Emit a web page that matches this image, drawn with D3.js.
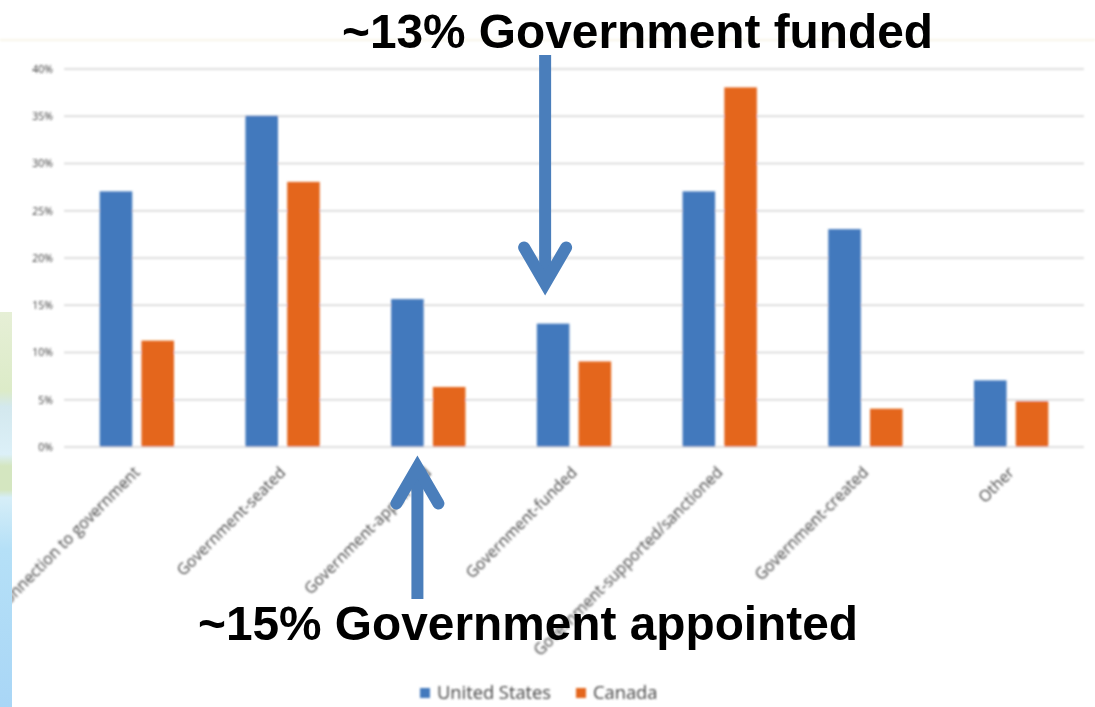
<!DOCTYPE html>
<html><head><meta charset="utf-8">
<script src="https://cdn.jsdelivr.net/npm/d3@7"></script>
<style>html,body{margin:0;padding:0;background:#fff;overflow:hidden}svg{display:block}</style>
</head><body><svg id="c" width="1095" height="707"></svg>
<script>
const categories = ["No connection to government","Government-seated","Government-appointed","Government-funded","Government-supported/sanctioned","Government-created","Other"];
const seriesNames = ["United States","Canada"];
const unitedStates = [27,35,15.6,13,27,23,7];
const canada = [11.2,28,6.3,9,38,4,4.8];
const yTicks = [0,5,10,15,20,25,30,35,40];
const colors = ["#4379bd","#e4661f"];
const noteFunded = "~13% Government funded";
const noteAppointed = "~15% Government appointed";

const svg = d3.select("#c");
const defs = svg.append("defs");
defs.append("filter").attr("id","soft").attr("x","-5%").attr("y","-5%").attr("width","110%").attr("height","110%")
  .append("feGaussianBlur").attr("stdDeviation",0.9);
const mapGrad = defs.append("linearGradient").attr("id","map").attr("x1",0).attr("x2",0).attr("y1",0).attr("y2",1);
[[0,"#e6efd6"],[.2,"#dcebc8"],[.24,"#d3e8ee"],[.36,"#dcf0f8"],[.39,"#d4e6c0"],[.45,"#d4e6c0"],[.47,"#d6eef8"],[.6,"#b5e0f7"],[1,"#a9d6f6"]]
  .forEach(([o,c])=>mapGrad.append("stop").attr("offset",o).attr("stop-color",c));

const x = d3.scaleBand().domain(categories).range([64,1084]).paddingInner(0.49).paddingOuter(0.245);
const x1 = d3.scaleBand().domain(seriesNames).range([0,x.bandwidth()]).paddingInner(0.22);
const y = d3.scaleLinear().domain([0,40]).range([446.5,68.5]);

const chart = svg.append("g").attr("filter","url(#soft)");
chart.append("line").attr("x1",0).attr("x2",1095).attr("y1",40).attr("y2",40).attr("stroke","#f0ecd0").attr("stroke-width",1);

const yAxis = d3.axisLeft(y).tickValues(yTicks).tickFormat(d=>d+"%").tickSize(-1020).tickPadding(11);
const gy = chart.append("g").attr("transform","translate(64,0)").call(yAxis);
gy.select(".domain").remove();
gy.selectAll(".tick line").attr("stroke","#d4d4d4").attr("stroke-width",1.6);
gy.selectAll(".tick text").attr("fill","#3c3c3c").style("font","10.5px 'Open Sans'").attr("dy","0.55em").attr("transform","translate(0,-2)");

const groups = chart.selectAll("g.grp").data(categories).join("g").attr("class","grp")
  .attr("transform",d=>`translate(${x(d)},0)`);
[unitedStates,canada].forEach((vals,s)=>{
  groups.append("rect")
    .attr("x",x1(seriesNames[s])).attr("width",x1.bandwidth())
    .attr("y",(d,i)=>y(vals[i])).attr("height",(d,i)=>y(0)-y(vals[i]))
    .attr("fill",colors[s]);
});

const xAxis = d3.axisBottom(x).tickSize(0).tickPadding(0);
const gx = chart.append("g").attr("transform",`translate(0,${y(0)})`).call(xAxis);
gx.select(".domain").remove();
gx.selectAll(".tick text").attr("text-anchor","end").attr("fill","#444")
  .style("font","15.7px 'Open Sans'").attr("dy",0).attr("y",0)
  .attr("transform","translate(4,27) rotate(-45)");

// legend
const legendY = 693;
const lg = chart.append("g");
[[420,437],[576,593]].forEach(([sx,tx],i)=>{
  lg.append("rect").attr("x",sx).attr("y",legendY-5).attr("width",10).attr("height",10).attr("fill",colors[i]);
  lg.append("text").attr("x",tx).attr("y",legendY+6).text(seriesNames[i]).attr("fill","#444")
    .style("font","18.3px 'Open Sans'");
});

// map strip at the left edge
svg.append("rect").attr("x",0).attr("y",312).attr("width",12).attr("height",395).attr("fill","url(#map)");

// annotations
const arrowColor = "#4a7ebb";
const note = svg.append("g");
function arrow(ax,y0,y1,dir){
  const hw=21, hh=40*dir;
  note.append("line").attr("x1",ax).attr("x2",ax).attr("y1",y0).attr("y2",y1-8*dir)
    .attr("stroke",arrowColor).attr("stroke-width",12);
  note.append("path").attr("d",`M${ax-hw},${y1-hh}L${ax},${y1-4*dir}L${ax+hw},${y1-hh}`)
    .attr("fill","none").attr("stroke",arrowColor).attr("stroke-width",12)
    .attr("stroke-linecap","round").attr("stroke-linejoin","miter");
}
const usCenter = c => x(c)+x1("United States")+x1.bandwidth()/2;
arrow(usCenter(categories[3])-8,55,y(0)-159,1);
arrow(usCenter(categories[2])+10,599,y(0)+17,-1);
note.append("text").attr("x",342).attr("y",48).text(noteFunded)
  .style("font","bold 47.8px 'Liberation Sans'").attr("fill","#000");
note.append("text").attr("x",198).attr("y",640).text(noteAppointed)
  .style("font","bold 47.8px 'Liberation Sans'").attr("fill","#000");
</script></body></html>
